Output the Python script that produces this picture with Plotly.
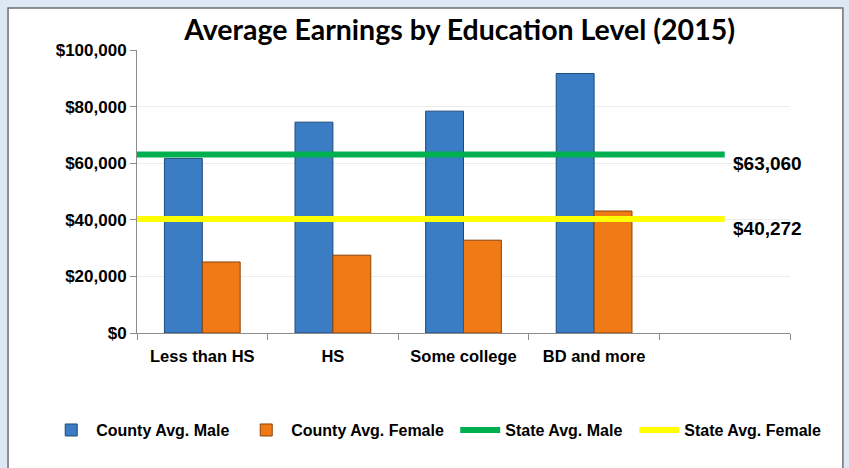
import plotly.graph_objects as go

categories = ["Less than HS", "HS", "Some college", "BD and more"]
county_male = [61700, 74500, 78400, 91700]
county_female = [25100, 27500, 32800, 43100]
state_male = 63060
state_female = 40272
y_ticks = [0, 20000, 40000, 60000, 80000, 100000]

x_pos = list(range(len(categories)))
line_x = [-0.5, len(categories)]

FONT = "Liberation Sans, Arial, sans-serif"

fig = go.Figure()
fig.add_trace(go.Bar(
    x=x_pos, y=county_male, name="County Avg. Male", legendwidth=140,
    marker=dict(color="#3a7dc4", line=dict(color="#1e4a78", width=1)),
))
fig.add_trace(go.Bar(
    x=x_pos, y=county_female, name="County Avg. Female", legendwidth=159,
    marker=dict(color="#f07a16", line=dict(color="#8a4208", width=1)),
))
fig.add_trace(go.Scatter(
    x=line_x, y=[state_male] * 2, mode="lines", name="State Avg. Male", legendwidth=124,
    line=dict(color="#00b050", width=6),
))
fig.add_trace(go.Scatter(
    x=line_x, y=[state_female] * 2, mode="lines", name="State Avg. Female", legendwidth=142,
    line=dict(color="#ffff00", width=6),
))

for v in (state_male, state_female):
    fig.add_annotation(
        x=line_x[1], y=v, xref="x", yref="y", text=f"<b>${v:,}</b>",
        showarrow=False, xanchor="left", yanchor="middle", xshift=6, yshift=-9,
        font=dict(family=FONT, size=19, color="#000000"),
    )

# white frame on light blue page
fig.add_shape(type="rect", xref="paper", yref="paper",
              x0=-0.1975, x1=1.081, y0=-0.6, y1=1.1484,
              fillcolor="#ffffff", line=dict(color="#6f6f6f", width=1.5), layer="below")

fig.update_layout(
    width=849, height=468,
    margin=dict(l=137, r=59, t=50, b=135),
    paper_bgcolor="#dde8f4",
    plot_bgcolor="#ffffff",
    barmode="group",
    bargap=0.42,
    bargroupgap=0,
    title=dict(text="<b>Average Earnings by Education Level (2015)</b>",
               x=0.494, xref="paper", xanchor="center", y=0.935, yanchor="middle",
               font=dict(family="Lato, Open Sans, sans-serif", size=28.5, color="#000000")),
    showlegend=True,
    legend=dict(orientation="h", x=-0.139, xanchor="left", y=-0.343, yanchor="middle",
                font=dict(family=FONT, size=16, color="#000000", weight="bold"),
                bgcolor="rgba(0,0,0,0)", itemwidth=40, traceorder="normal"),
    xaxis=dict(
        range=[-0.5, 4.5],
        tickvals=x_pos, ticktext=[f"<b>{c}</b>" for c in categories],
        ticks="", showgrid=False, zeroline=False, ticklabelstandoff=8,
        showline=True, linecolor="#8c8c8c", linewidth=1,
        tickfont=dict(family=FONT, size=16.5, color="#000000"),
        minor=dict(tickvals=[i + 0.5 for i in range(-1, 5)], ticks="outside",
                   ticklen=6, tickcolor="#8c8c8c", showgrid=False),
    ),
    yaxis=dict(
        range=[0, 100000], tickvals=y_ticks,
        ticktext=[f"<b>${v:,}</b>" for v in y_ticks],
        ticks="outside", ticklen=6, tickcolor="#8c8c8c",
        showline=True, linecolor="#8c8c8c", linewidth=1,
        showgrid=True, gridcolor="#ececec", gridwidth=1, zeroline=False,
        tickfont=dict(family=FONT, size=17, color="#000000"),
    ),
)

fig.write_html(
    "out.html",
    config={"displayModeBar": False},
    post_script="document.body.style.margin='0';document.body.style.background='#dde8f4';",
)
